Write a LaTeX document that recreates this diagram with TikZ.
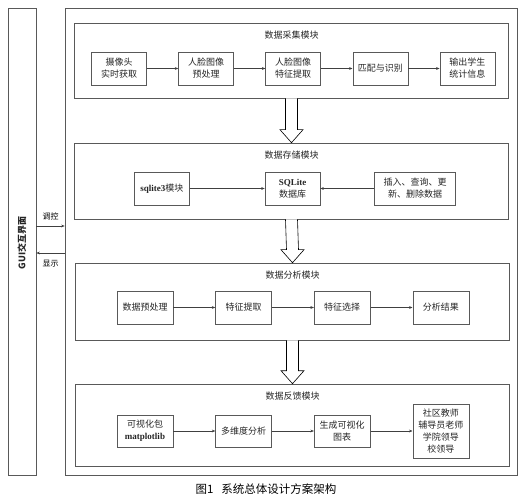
\documentclass[tikz,border=0pt]{standalone}
\usepackage{fontspec}
\setmainfont{Liberation Serif}
\newfontfamily\cjk{Noto Sans CJK SC}
\usetikzlibrary{positioning,calc,arrows.meta}

\newcommand{\fatarrow}[2]{%
  \draw[semithick,fill=white] ($(#1.south)+(-6,0)$) -- ($(#2.north)+(-6,13)$) -- ++(-5.5,0)
    -- (#2.north) -- ($(#2.north)+(11.5,13)$) -- ++(-5.5,0) -- ($(#1.south)+(6,0)$);}

\begin{document}
\begin{tikzpicture}[x=1pt,y=1pt,
    font=\cjk\fontsize{9}{12}\selectfont,
    frame/.style={draw=black!65,line width=0.6pt,inner sep=0pt},
    module/.style={frame,minimum width=434pt},
    unit/.style={frame,minimum width=55pt,minimum height=33pt,align=center,text=black!85},
    title/.style={inner sep=0pt,text=black!85},
    flow/.style={-{Stealth[length=3.5pt,width=2.8pt]},line width=0.5pt,draw=black!75},
    node distance=31.5pt]
  \useasboundingbox (0,0) rectangle (528,-500);

  % frames
  \node (gui) [frame,minimum width=28pt,minimum height=467pt] at (22,-241.5) {};
  \node (outer) [frame,minimum width=452pt,minimum height=467pt] at (291,-241.5) {};
  \node [rotate=90,font=\cjk\bfseries\fontsize{9}{11}\selectfont,text=black!85] at (22,-243) {GUI交互界面};

  % data collection
  \node (m1) [module,minimum height=75pt] at (291.5,-60.5) {};
  \node [title,below=8pt of m1.north] {数据采集模块};
  \node (a1) [unit] at (119,-68.5) {摄像头\\实时获取};
  \node (a2) [unit,right=of a1] {人脸图像\\预处理};
  \node (a3) [unit,right=of a2] {人脸图像\\特征提取};
  \node (a4) [unit,right=of a3] {匹配与识别};
  \node (a5) [unit,right=of a4] {输出学生\\统计信息};
  \draw[flow] (a1) -- (a2);
  \draw[flow] (a2) -- (a3);
  \draw[flow] (a3) -- (a4);
  \draw[flow] (a4) -- (a5);

  % data storage
  \node (m2) [module,minimum height=76pt] at (291.5,-181) {};
  \node [title,below=8pt of m2.north] {数据存储模块};
  \node (b2) [unit] at (292.5,-188.5) {{\rmfamily\bfseries SQLite}\\数据库};
  \node (b1) [unit,left=75pt of b2] {{\rmfamily\bfseries sqlite3}模块};
  \node (b3) [unit,minimum width=81pt,right=54pt of b2] {插入、查询、更\\新、删除数据};
  \draw[flow] (b1) -- (b2);
  \draw[flow] (b3) -- (b2);

  % data analysis
  \node (m3) [module,minimum height=77pt] at (292.5,-301.5) {};
  \node [title,below=8pt of m3.north] {数据分析模块};
  \node (s1) [unit,minimum width=56pt] at (145,-307.5) {数据预处理};
  \node (s2) [unit,minimum width=56pt,right=42pt of s1] {特征提取};
  \node (s3) [unit,minimum width=56pt,right=42pt of s2] {特征选择};
  \node (s4) [unit,minimum width=56pt,right=42pt of s3] {分析结果};
  \draw[flow] (s1) -- (s2);
  \draw[flow] (s2) -- (s3);
  \draw[flow] (s3) -- (s4);

  % data feedback
  \node (m4) [module,minimum height=82pt] at (292.5,-425) {};
  \node [title,below=8pt of m4.north] {数据反馈模块};
  \node (f1) [unit,minimum width=56pt,minimum height=32pt] at (145,-431) {可视化包\\{\rmfamily\bfseries matplotlib}};
  \node (f2) [unit,minimum width=56pt,minimum height=32pt,right=42pt of f1] {多维度分析};
  \node (f3) [unit,minimum width=56pt,minimum height=32pt,right=42pt of f2] {生成可视化\\图表};
  \node (f4) [unit,minimum width=56pt,minimum height=54pt,right=42pt of f3] {社区教师\\辅导员老师\\学院领导\\校领导};
  \draw[flow] (f1) -- (f2);
  \draw[flow] (f2) -- (f3);
  \draw[flow] (f3) -- (f4);

  % between modules
  \fatarrow{m1}{m2}
  \fatarrow{m2}{m3}
  \fatarrow{m3}{m4}

  % gui links
  \coordinate (ctrl) at (0,-226);
  \coordinate (show) at (0,-253);
  \draw[flow] (gui.east |- ctrl) -- (outer.west |- ctrl)
    node [midway,above=2pt,font=\cjk\fontsize{8}{10}\selectfont] {调控};
  \draw[flow] (outer.west |- show) -- (gui.east |- show)
    node [midway,below=4pt,font=\cjk\fontsize{8}{10}\selectfont] {显示};

  \node (cap) [font=\cjk\fontsize{11.5}{13}\selectfont] at (266,-489) {图1\hspace{8pt}系统总体设计方案架构};
\end{tikzpicture}
\end{document}
